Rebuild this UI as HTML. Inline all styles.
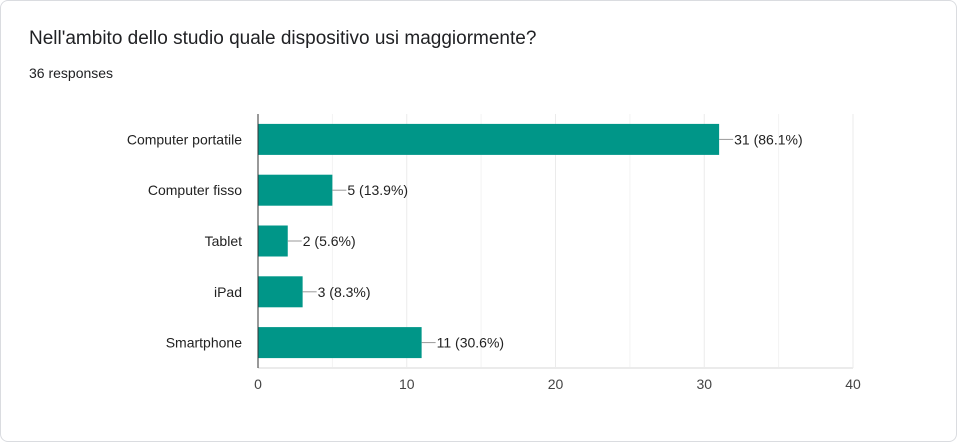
<!DOCTYPE html>
<html><head><meta charset="utf-8"><style>
html,body{margin:0;padding:0;background:#fff;}
body{width:957px;height:442px;overflow:hidden;font-family:"Liberation Sans",Arial,sans-serif;}
.card{position:absolute;left:0;top:0;width:955px;height:440px;border:1px solid #dadce0;border-radius:8px;background:#fff;}
.title{position:absolute;left:29px;top:28px;font-size:19px;color:#202124;}
.sub{position:absolute;left:29px;top:65px;font-size:14px;color:#202124;}
svg{position:absolute;left:0;top:0;}
</style></head><body>
<div class="card"></div>
<div class="title">Nell'ambito dello studio quale dispositivo usi maggiormente?</div>
<div class="sub">36 responses</div>
<svg id="chart" width="957" height="442"></svg>
<script>
const categories=["Computer portatile","Computer fisso","Tablet","iPad","Smartphone"];
const values=[31,5,2,3,11];
const percents=["86.1%","13.9%","5.6%","8.3%","30.6%"];
const ticks=[0,10,20,30,40];
const minorTicks=[5,15,25,35];
const svg=document.getElementById('chart');
const NS='http://www.w3.org/2000/svg';
const x0=258,x1=853,plotTop=114,plotBottom=368,maxV=40;
const xs=v=>x0+(x1-x0)*v/maxV;
const band=(plotBottom-plotTop)/categories.length;
const yc=i=>plotTop+band*(i+0.5);
function mk(t,a){const e=document.createElementNS(NS,t);for(const k in a)e.setAttribute(k,a[k]);svg.appendChild(e);return e;}
minorTicks.forEach(v=>{const l=mk('line',{x1:xs(v),x2:xs(v),y1:plotTop,y2:plotBottom,stroke:'#f3f3f3','stroke-width':1});

});
ticks.forEach(v=>{const l=mk('line',{x1:xs(v),x2:xs(v),y1:plotTop,y2:plotBottom,stroke:'#ebebeb','stroke-width':1});


const t=mk('text',{x:xs(v),y:389,'text-anchor':'middle','font-size':14,fill:'#444'});t.textContent=v;

});
const hb=mk('line',{x1:x0,x2:x1,y1:plotBottom,y2:plotBottom,stroke:'#ebebeb','stroke-width':2});


categories.forEach((c,i)=>{
const y=yc(i),h=31;
const r=mk('rect',{x:x0,y:y-h/2,width:xs(values[i])-x0,height:h,fill:'#009688'});


const ln=mk('line',{x1:xs(values[i]),x2:xs(values[i])+14,y1:y,y2:y,stroke:'#999','stroke-width':1});


const vt=mk('text',{x:xs(values[i])+15,y:y+5,'font-size':14,fill:'#222'});vt.textContent=values[i]+' ('+percents[i]+')';


const ct=mk('text',{x:242,y:y+5,'text-anchor':'end','font-size':14,fill:'#222'});ct.textContent=c;


});
const ax=mk('line',{x1:x0,x2:x0,y1:plotTop,y2:plotBottom,stroke:'#333','stroke-width':1});


</script>
</body></html>
